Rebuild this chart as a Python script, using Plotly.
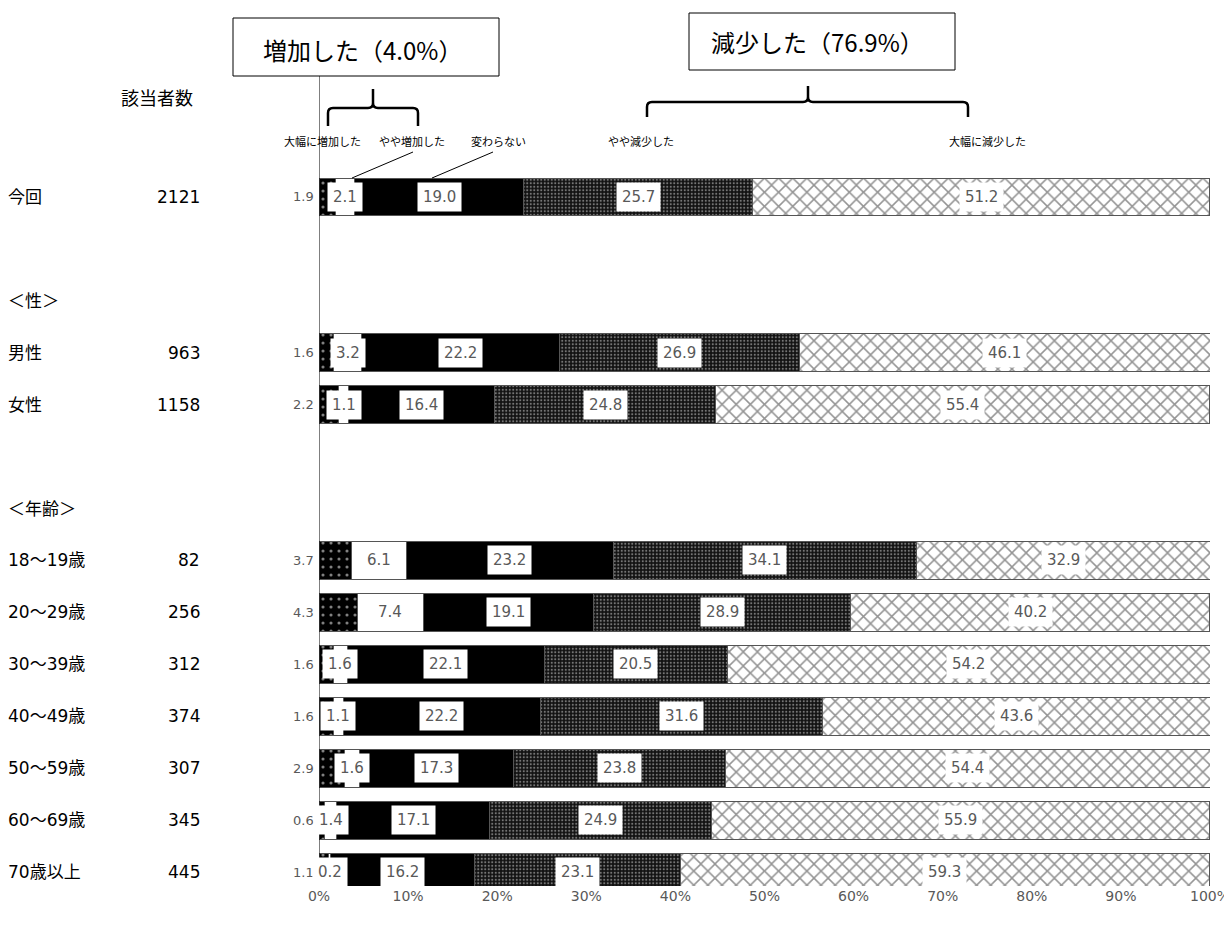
import plotly.graph_objects as go

OFF = 8  # default body margin of the html page
W, H = 1232 - OFF, 933 - 2 * OFF - 6
L_PX, R_PX = 319, 1210
T_PX, B_PX = 171, 886

rows = ["今回", "", "＜性＞", "男性", "女性", "", "＜年齢＞",
        "18～19歳", "20～29歳", "30～39歳", "40～49歳", "50～59歳", "60～69歳", "70歳以上"]
counts = ["2121", "", "", "963", "1158", "", "",
          "82", "256", "312", "374", "307", "345", "445"]
series_names = ["大幅に増加した", "やや増加した", "変わらない", "やや減少した", "大幅に減少した"]
s1 = [1.9, None, None, 1.6, 2.2, None, None, 3.7, 4.3, 1.6, 1.6, 2.9, 0.6, 1.1]
s2 = [2.1, None, None, 3.2, 1.1, None, None, 6.1, 7.4, 1.6, 1.1, 1.6, 1.4, 0.2]
s3 = [19.0, None, None, 22.2, 16.4, None, None, 23.2, 19.1, 22.1, 22.2, 17.3, 17.1, 16.2]
s4 = [25.7, None, None, 26.9, 24.8, None, None, 34.1, 28.9, 20.5, 31.6, 23.8, 24.9, 23.1]
s5 = [51.2, None, None, 46.1, 55.4, None, None, 32.9, 40.2, 54.2, 43.6, 54.4, 55.9, 59.3]
series = [s1, s2, s3, s4, s5]
x_ticks = [0, 10, 20, 30, 40, 50, 60, 70, 80, 90, 100]
box_up = "増加した（4.0%）"
box_down = "減少した（76.9%）"
header = "該当者数"

ycat = [f"r{i}" for i in range(len(rows))]

styles = [
    dict(color="black", pattern=dict(shape=".", fgcolor="white", bgcolor="black", size=8, solidity=0.12)),
    dict(color="white"),
    dict(color="black"),
    dict(color="#1a1a1a", pattern=dict(shape=".", fgcolor="#d8d8d8", bgcolor="#111111", size=3.5, solidity=0.3)),
    dict(color="white", pattern=dict(shape="x", fgcolor="#2a2a2a", bgcolor="white", size=10, solidity=0.28)),
]

fig = go.Figure()
for name, vals, st in zip(series_names, series, styles):
    m = dict(st)
    m["line"] = dict(color="#555555", width=1)
    fig.add_trace(go.Bar(y=ycat, x=vals, orientation="h", name=name, marker=m,
                         width=0.73, hoverinfo="skip", showlegend=False))

def px_x(px):
    return (px - L_PX) / (R_PX - L_PX)

def px_y(py):
    return (B_PX - py) / (B_PX - T_PX)

ann = []
NUMFONT = "DejaVu Sans, Verdana, sans-serif"
JPFONT = "Noto Sans CJK JP, sans-serif"
MIXFONT = "DejaVu Sans, Noto Sans CJK JP, sans-serif"

def note(x, y, text, size, color="black", family=JPFONT, xanchor="center", **kw):
    d = dict(x=x, y=y, text=text, showarrow=False, xanchor=xanchor, yanchor="middle",
             font=dict(size=size, color=color, family=family))
    d.update(kw)
    ann.append(d)

# value labels
for i in range(len(rows)):
    if s1[i] is None:
        continue
    cum = 0.0
    for k, vals in enumerate(series):
        v = vals[i]
        if k == 0:
            note(0, ycat[i], f"{v:.1f}", 13, "#595959", NUMFONT, xanchor="right",
                 xref="x", yref="y", xshift=-3)
        else:
            note(cum + v / 2, ycat[i], f"{v:.1f}", 15, "#595959", NUMFONT,
                 xref="x", yref="y", bgcolor="white", borderpad=5)
        cum += v
# row labels
for i, r in enumerate(rows):
    if r:
        note(px_x(6), ycat[i], r, 17, family=MIXFONT, xanchor="left", xref="paper", yref="y")
    if counts[i]:
        note(px_x(202), ycat[i], counts[i], 17, family=MIXFONT, xanchor="right", xref="paper", yref="y")
note(px_x(157), px_y(97), header, 18, xref="paper", yref="paper")
# series name labels on top
top_pos = [322, 412, 498, 641, 987]
for nm, xp in zip(series_names, top_pos):
    note(px_x(xp), px_y(141), nm, 11, xref="paper", yref="paper")
note(px_x(362), px_y(50), box_up, 24, xref="paper", yref="paper")
note(px_x(817), px_y(42), box_down, 24, xref="paper", yref="paper")

shapes = []
def rect(x0, y0, x1, y1):
    shapes.append(dict(type="rect", xref="paper", yref="paper", x0=px_x(x0), x1=px_x(x1),
                       y0=px_y(y1), y1=px_y(y0), line=dict(color="black", width=1),
                       fillcolor="white", layer="below"))

def line(x0, y0, x1, y1, w=1):
    shapes.append(dict(type="line", xref="paper", yref="paper", x0=px_x(x0), x1=px_x(x1),
                       y0=px_y(y0), y1=px_y(y1), line=dict(color="black", width=w)))

def brace(xl, xc, xr, ybot, ymid, ytop, rr=5):
    pts = [
        f"M{px_x(xl)},{px_y(ybot)}",
        f"L{px_x(xl)},{px_y(ymid + rr)}",
        f"Q{px_x(xl)},{px_y(ymid)} {px_x(xl + rr)},{px_y(ymid)}",
        f"L{px_x(xc - rr)},{px_y(ymid)}",
        f"Q{px_x(xc)},{px_y(ymid)} {px_x(xc)},{px_y(ymid - rr)}",
        f"L{px_x(xc)},{px_y(ytop)}",
        f"M{px_x(xc)},{px_y(ymid - rr)}",
        f"Q{px_x(xc)},{px_y(ymid)} {px_x(xc + rr)},{px_y(ymid)}",
        f"L{px_x(xr - rr)},{px_y(ymid)}",
        f"Q{px_x(xr)},{px_y(ymid)} {px_x(xr)},{px_y(ymid + rr)}",
        f"L{px_x(xr)},{px_y(ybot)}",
    ]
    shapes.append(dict(type="path", xref="paper", yref="paper", path=" ".join(pts),
                       line=dict(color="black", width=2.5)))

rect(233, 18, 499, 76)
rect(689, 13, 955, 70)
# vertical axis line
shapes.append(dict(type="line", xref="x", yref="paper", x0=0, x1=0, y0=px_y(885), y1=px_y(76),
                   line=dict(color="black", width=1)))
brace(328, 373, 418, 126, 108, 89)
brace(647, 808, 968, 117, 102, 86)
line(413, 152, 352, 178)
line(493, 152, 432, 178)

fig.update_layout(
    width=W, height=H, barmode="stack",
    margin=dict(l=L_PX - OFF, r=W - (R_PX - OFF), t=T_PX - OFF, b=H - (B_PX - OFF), autoexpand=False),
    paper_bgcolor="white", plot_bgcolor="white",
    annotations=ann, shapes=shapes, hovermode=False,
    xaxis=dict(range=[0, 100], tickvals=x_ticks, ticktext=[f"{t}%" for t in x_ticks],
               showgrid=False, zeroline=False, showline=False, ticks="",
               ticklabeloverflow="allow",
               tickfont=dict(size=14, color="#595959", family=NUMFONT), fixedrange=True),
    yaxis=dict(type="category", categoryorder="array", categoryarray=ycat,
               range=[len(rows) - 1 + (B_PX - 872) / 51.92, -0.5],
               showticklabels=False, showgrid=False, zeroline=False, showline=False, ticks="",
               fixedrange=True),
)

fig.write_html("out.html")
